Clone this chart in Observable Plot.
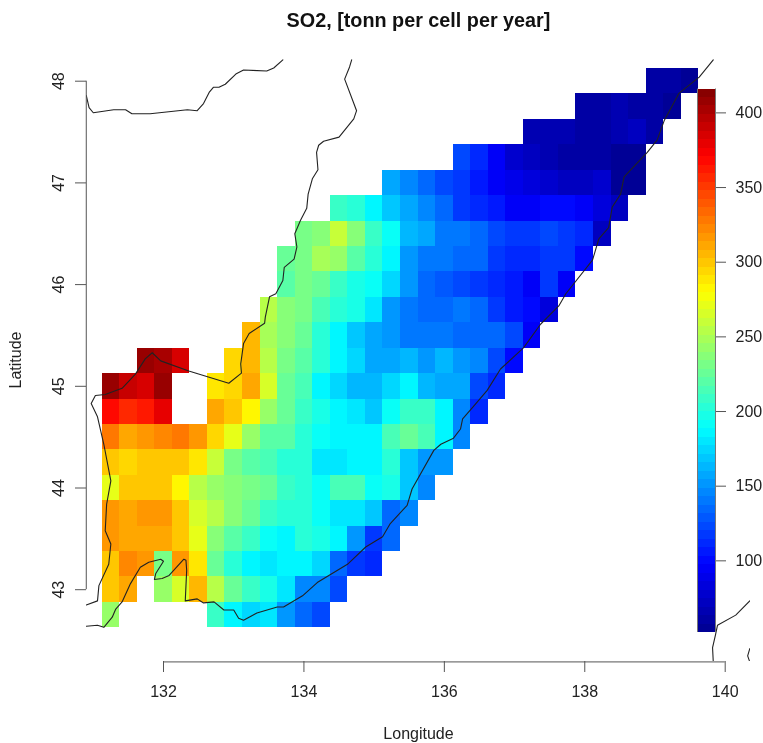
<!DOCTYPE html>
<html><head><meta charset="utf-8">
<script src="https://cdn.jsdelivr.net/npm/d3@7"></script>
<script src="https://cdn.jsdelivr.net/npm/@observablehq/plot@0.6"></script>
<style>html,body{margin:0;padding:0;background:#fff}#wrap{position:relative;width:763px;height:743px;filter:blur(0.4px)}#wrap svg{position:absolute;left:0;top:0}</style>
</head><body><div id="wrap"></div>
<script>
const _ = null;
const lonOrigin = 131.125, latOrigin = 42.625, cellSize = 0.25;
// first grid column of each row, south to north
const rowStart = [0,0,0,0,0,0,0,0,0,0,0,8,9,10,10,11,13,16,20,24,27,31];
// SO2 values per row, south (row 0) to north (row 21)
const so2 = [
 [240,_,_,_,_,_,208,188,172,182,149,137,122],
 [302,312,_,245,265,305,255,225,208,195,182,148,148,122],
 [302,322,315,230,315,290,228,205,188,178,188,185,172,137,118,113],
 [318,312,308,312,298,270,238,218,208,192,188,200,195,185,151,118,133],
 [318,310,316,316,300,268,255,235,228,210,205,200,190,182,180,170,133,143],
 [272,298,302,302,280,255,240,235,232,225,210,202,190,212,212,190,198,169,144],
 [300,292,300,298,298,290,258,232,220,212,205,203,182,180,188,188,200,170,151,149],
 [325,312,316,324,326,315,292,270,240,222,220,205,190,186,186,185,215,225,212,185,148],
 [370,355,362,380,_,_,312,300,280,240,225,210,195,188,182,170,190,208,208,185,148,112],
 [405,390,385,410,_,_,290,295,310,268,228,215,188,175,162,162,174,185,162,160,155,122,110],
 [_,_,405,400,382,_,_,295,305,255,232,222,205,188,172,156,156,165,149,165,151,148,124,103],
 [305,250,238,225,205,188,170,155,149,142,138,138,137,135,135,122,92],
 [255,238,232,215,200,195,180,151,142,135,135,138,136,115,106,100,84],
 [222,232,225,210,198,190,176,151,133,130,124,120,113,108,97,115,97],
 [225,232,250,245,218,200,185,153,142,138,137,135,120,113,112,120,118,103],
 [232,235,258,238,210,190,165,158,140,138,135,122,118,118,124,120,112,70],
 [210,205,188,169,155,148,137,118,112,108,97,97,101,100,97,82,70],
 [160,145,135,125,115,108,95,90,82,75,72,72,78,56,55],
 [122,112,92,80,72,66,62,60,60,57,55],
 [66,64,64,62,62,66,70,58],
 [62,62,66,63,60,55],
 [60,60,54]
];
// Coast and border lines as [lon, lat]
const northBorder = [[130.90,47.86],[130.94,47.74],[131.00,47.69],[131.29,47.72],[131.46,47.72],[131.55,47.68],[131.81,47.68],[132.34,47.72],[132.48,47.71],[132.57,47.78],[132.65,47.89],[132.71,47.94],[132.79,47.94],[132.88,47.97],[133.03,48.07],[133.14,48.11],[133.47,48.10],[133.57,48.13],[133.70,48.21]];
const westBorder = [[134.68,48.21],[134.65,48.14],[134.58,48.02],[134.75,47.71],[134.71,47.63],[134.50,47.45],[134.28,47.41],[134.21,47.37],[134.18,47.30],[134.20,47.13],[134.12,47.04],[134.06,46.89],[134.04,46.75],[133.95,46.63],[133.87,46.50],[133.90,46.37],[133.86,46.25],[133.72,46.17],[133.70,46.04],[133.60,45.91],[133.51,45.88],[133.45,45.68],[133.44,45.62],[133.22,45.52],[133.14,45.42],[133.10,45.22],[133.11,45.13],[132.93,45.03],[132.36,45.15],[131.96,45.25],[131.84,45.33],[131.74,45.27],[131.60,45.12],[131.41,44.98],[131.17,44.92],[131.03,44.91],[130.97,44.83],[131.06,44.70],[131.15,44.43],[131.25,44.07],[131.19,43.84],[131.17,43.58],[131.25,43.45],[131.22,43.25],[131.08,43.04],[131.06,42.89],[130.90,42.85]];
const seaCoast = [[130.90,42.64],[131.06,42.65],[131.15,42.63],[131.27,42.73],[131.32,42.81],[131.41,42.88],[131.53,43.06],[131.67,43.22],[131.79,43.27],[131.96,43.30],[132.00,43.28],[131.89,43.16],[131.87,43.10],[131.98,43.11],[132.08,43.14],[132.29,43.30],[132.32,43.29],[132.33,43.19],[132.31,42.89],[132.48,42.91],[132.57,42.87],[132.72,42.88],[132.86,42.80],[133.00,42.80],[133.07,42.72],[133.14,42.70],[133.33,42.77],[133.62,42.83],[133.71,42.83],[133.98,42.94],[134.19,43.07],[134.62,43.25],[134.88,43.42],[135.12,43.52],[135.23,43.65],[135.47,43.83],[135.54,43.99],[135.85,44.37],[135.95,44.43],[136.13,44.49],[136.23,44.58],[136.26,44.68],[136.40,44.79],[136.61,44.96],[136.80,45.17],[137.13,45.38],[137.37,45.61],[137.63,45.79],[137.73,45.91],[138.11,46.24],[138.20,46.45],[138.34,46.56],[138.39,46.76],[138.51,46.89],[138.56,47.06],[138.89,47.30],[139.03,47.42],[139.13,47.61],[139.34,47.88],[139.63,48.04],[139.83,48.21]];
const islandCoast = [[140.35,42.89],[140.15,42.75],[139.89,42.65],[139.86,42.55],[139.82,42.43],[139.83,42.29]];
const islandCoast2 = [[140.35,42.42],[140.32,42.35],[140.35,42.29]];
const lonTicks = [132,134,136,138,140];
const latTicks = [43,44,45,46,47,48];
const barTicks = [100,150,200,250,300,350,400];
const so2Min = 52, so2Max = 416, nLevels = 64;
const titleText = "SO2, [tonn per cell per year]";
const axisLat = 42.29, axisLon = 130.90;
const jetStops = ["#00008F","#0000FF","#00FFFF","#FFFF00","#FF0000","#800000"];
const jetPos = [0,1/8,3/8,5/8,7/8,1];

const jet = d3.scaleLinear().domain(jetPos).range(jetStops);
const levels = d3.range(nLevels).map(i => ({
  lo: so2Min + (so2Max-so2Min)*i/nLevels,
  hi: so2Min + (so2Max-so2Min)*(i+1)/nLevels
}));
const colorScale = {
  type:"threshold",
  domain: levels.slice(1).map(l => l.lo),
  range: levels.map((l,i) => jet((i+0.5)/nLevels))
};
const cells = so2.flatMap((row,r) => row.map((v,i) => ({v, c:rowStart[r]+i, r})).filter(d => d.v !== null));
const font = {fontFamily:"'Liberation Sans',Arial,sans-serif", fontSize:"16px", color:"#222", background:"transparent"};
const axisColor = "#555";
const lineOf = (pts) => Plot.line(pts,{x:d=>d[0],y:d=>d[1],stroke:"#222",strokeWidth:1.1,clip:"frame",curve:"linear"});

const map = Plot.plot({
  width:763,height:743,marginLeft:86,marginRight:13,marginTop:58,marginBottom:82,
  style:font,
  x:{domain:[132,140],range:[163,724.7]},
  y:{domain:[43,48],range:[589.2,80.7]},
  color:colorScale,
  marks:[
    Plot.rect(cells,{x1:d=>lonOrigin+d.c*cellSize,x2:d=>lonOrigin+(d.c+1)*cellSize,
      y1:d=>latOrigin+d.r*cellSize,y2:d=>latOrigin+(d.r+1)*cellSize,fill:"v",shapeRendering:"crispEdges"}),
    lineOf(northBorder),lineOf(westBorder),lineOf(seaCoast),lineOf(islandCoast),lineOf(islandCoast2),
    Plot.ruleY([axisLat],{x1:132,x2:140,stroke:axisColor}),
    Plot.ruleX([axisLon],{y1:43,y2:48,stroke:axisColor}),
    Plot.axisX({ticks:lonTicks,tickFormat:d=>String(d),tickSize:11,tickPadding:13,stroke:axisColor,
      label:"Longitude",labelAnchor:"center",labelArrow:"none",labelOffset:77}),
    Plot.axisY({ticks:latTicks,tickFormat:d=>String(d),tickSize:11,tickPadding:12,tickRotate:-90,textAnchor:"middle",stroke:axisColor,
      label:"Latitude",labelAnchor:"center",labelArrow:"none",labelOffset:77}),
    Plot.text([titleText],{frameAnchor:"top",dy:-46,fontWeight:"bold",fontSize:19.8,fill:"#111"})
  ]
});
const bar = Plot.plot({
  width:763,height:743,marginLeft:697,marginRight:48,marginTop:88,marginBottom:111,
  style:font,
  x:{domain:[0,1],range:[697,715],axis:null},
  y:{domain:[so2Min,so2Max],range:[632,88.5]},
  color:colorScale,
  marks:[
    Plot.rect(levels,{x1:0,x2:1,y1:"lo",y2:"hi",fill:d=>(d.lo+d.hi)/2,shapeRendering:"crispEdges"}),
    Plot.ruleX([0,1],{y1:so2Min,y2:so2Max,stroke:"#777",strokeWidth:1}),
    Plot.axisY({anchor:"right",ticks:barTicks,tickFormat:d=>String(d),tickSize:10,tickPadding:10,stroke:axisColor,label:null})
  ]
});
document.getElementById("wrap").append(map,bar);
</script></body></html>
